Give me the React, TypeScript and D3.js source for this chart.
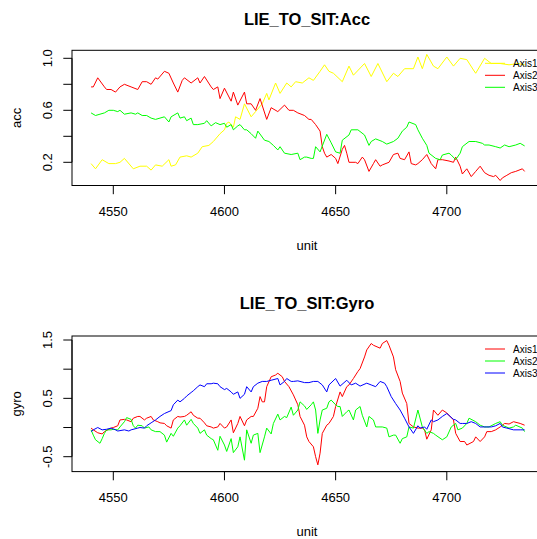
import React from "react";
import * as d3 from "d3";

// ---------- data ----------
const X_TICKS = [4550, 4600, 4650, 4700];
const ACC_TICKS = [0.2, 0.4, 0.6, 0.8, 1.0];
const ACC_TICK_LABELS = ["0.2", "", "0.6", "", "1.0"];
const GYRO_TICKS = [-0.5, 0, 0.5, 1.0, 1.5];
const GYRO_TICK_LABELS = ["-0.5", "", "0.5", "", "1.5"];
const SERIES_NAMES = ["Axis1", "Axis2", "Axis3"];

const accAxis1: [number, number][] = [
  [4540, 0.19], [4542, 0.15], [4545, 0.22], [4548, 0.19], [4551, 0.19], [4553, 0.2], [4555, 0.23],
  [4559, 0.15], [4562, 0.17], [4565, 0.17], [4567, 0.14], [4569, 0.18], [4572, 0.17], [4575, 0.22],
  [4576, 0.17], [4578, 0.18], [4580, 0.24], [4583, 0.25], [4585, 0.24], [4588, 0.27], [4590, 0.32],
  [4593, 0.33], [4595, 0.36], [4598, 0.42], [4600, 0.45], [4601, 0.5], [4602, 0.51], [4604, 0.47],
  [4605, 0.55], [4607, 0.53], [4609, 0.65], [4612, 0.55], [4614, 0.59], [4617, 0.65], [4619, 0.73],
  [4620, 0.68], [4623, 0.81], [4625, 0.73], [4628, 0.81], [4630, 0.78], [4632, 0.82], [4635, 0.81],
  [4638, 0.85], [4640, 0.83], [4643, 0.9], [4645, 0.95], [4647, 0.9], [4649, 0.885], [4653, 0.82],
  [4656, 0.94], [4658, 0.87], [4663, 0.96], [4666, 0.86], [4669, 0.96], [4673, 0.82], [4676, 0.885],
  [4678, 0.86], [4681, 0.92], [4685, 0.92], [4687, 1.01], [4689, 0.92], [4691, 1.03], [4694, 0.94],
  [4696, 0.92], [4700, 1.01], [4703, 0.94], [4706, 1.0], [4709, 0.99], [4712, 0.91], [4713, 0.885],
  [4717, 1.0], [4720, 0.96], [4724, 0.96], [4728, 0.95], [4732, 0.96], [4735, 0.95],
];

const accAxis2: [number, number][] = [
  [4540, 0.78], [4541, 0.78], [4543, 0.85], [4546, 0.78], [4547, 0.76], [4549, 0.76], [4551, 0.74],
  [4553, 0.78], [4555, 0.8], [4558, 0.78], [4561, 0.76], [4563, 0.82], [4565, 0.82], [4567, 0.8],
  [4569, 0.85], [4570, 0.84], [4573, 0.9], [4575, 0.885], [4577, 0.81], [4579, 0.74], [4581, 0.83],
  [4582, 0.85], [4585, 0.81], [4588, 0.85], [4589, 0.81], [4591, 0.86], [4594, 0.78], [4595, 0.76],
  [4597, 0.78], [4598, 0.69], [4600, 0.77], [4603, 0.67], [4604, 0.74], [4606, 0.64], [4609, 0.74],
  [4610, 0.65], [4612, 0.65], [4614, 0.6], [4616, 0.69], [4619, 0.53], [4621, 0.62], [4624, 0.59],
  [4627, 0.64], [4629, 0.6], [4631, 0.6], [4633, 0.58], [4636, 0.56], [4638, 0.53], [4639, 0.53],
  [4641, 0.49], [4643, 0.44], [4644, 0.32], [4645, 0.27], [4646, 0.24], [4648, 0.26], [4650, 0.23],
  [4651, 0.19], [4653, 0.3], [4654, 0.33], [4655, 0.27], [4656, 0.2], [4659, 0.2], [4660, 0.19],
  [4662, 0.24], [4663, 0.22], [4665, 0.13], [4667, 0.19], [4668, 0.22], [4670, 0.17], [4671, 0.18],
  [4674, 0.2], [4676, 0.26], [4678, 0.27], [4679, 0.23], [4681, 0.22], [4683, 0.28], [4684, 0.19],
  [4686, 0.18], [4687, 0.19], [4689, 0.22], [4691, 0.26], [4693, 0.19], [4695, 0.15], [4696, 0.22],
  [4698, 0.22], [4701, 0.21], [4703, 0.2], [4704, 0.24], [4706, 0.17], [4707, 0.11], [4709, 0.15],
  [4711, 0.09], [4713, 0.13], [4715, 0.17], [4717, 0.12], [4719, 0.1], [4721, 0.09], [4722, 0.1],
  [4724, 0.06], [4725, 0.08], [4727, 0.1], [4729, 0.12], [4731, 0.13], [4734, 0.15], [4735, 0.13],
];

const accAxis3: [number, number][] = [
  [4540, 0.58], [4542, 0.56], [4544, 0.57], [4546, 0.58], [4548, 0.6], [4550, 0.6], [4552, 0.59],
  [4553, 0.6], [4555, 0.57], [4558, 0.58], [4560, 0.57], [4561, 0.58], [4563, 0.56], [4565, 0.56],
  [4567, 0.54], [4569, 0.53], [4571, 0.54], [4573, 0.55], [4575, 0.51], [4576, 0.55], [4579, 0.58],
  [4580, 0.54], [4582, 0.55], [4583, 0.52], [4585, 0.54], [4586, 0.49], [4588, 0.49], [4591, 0.5],
  [4592, 0.52], [4594, 0.48], [4596, 0.505], [4598, 0.49], [4600, 0.5], [4601, 0.47], [4603, 0.49],
  [4604, 0.45], [4606, 0.48], [4607, 0.49], [4609, 0.45], [4610, 0.45], [4612, 0.42], [4614, 0.385],
  [4615, 0.44], [4618, 0.37], [4620, 0.36], [4622, 0.33], [4624, 0.295], [4625, 0.32], [4627, 0.27],
  [4630, 0.26], [4633, 0.27], [4634, 0.22], [4636, 0.24], [4637, 0.24], [4639, 0.23], [4640, 0.23],
  [4641, 0.32], [4643, 0.28], [4646, 0.415], [4648, 0.35], [4650, 0.28], [4652, 0.27], [4653, 0.37],
  [4656, 0.41], [4657, 0.45], [4660, 0.45], [4663, 0.41], [4665, 0.33], [4666, 0.36], [4668, 0.38],
  [4671, 0.36], [4673, 0.34], [4676, 0.36], [4678, 0.385], [4680, 0.44], [4682, 0.47], [4683, 0.51],
  [4686, 0.49], [4687, 0.45], [4689, 0.385], [4691, 0.33], [4692, 0.27], [4695, 0.23], [4697, 0.22],
  [4698, 0.256], [4701, 0.27], [4702, 0.256], [4704, 0.22], [4706, 0.27], [4707, 0.32], [4710, 0.36],
  [4713, 0.36], [4716, 0.346], [4717, 0.333], [4719, 0.333], [4722, 0.32], [4724, 0.31], [4726, 0.333],
  [4728, 0.32], [4731, 0.333], [4733, 0.346], [4735, 0.326],
];

const gyroAxis1: [number, number][] = [
  [4540, -0.01], [4541, -0.04], [4543, -0.09], [4545, -0.11], [4546, -0.07], [4549, -0.01], [4550, 0.0],
  [4552, 0.03], [4553, 0.13], [4555, 0.14], [4556, 0.13], [4558, 0.1], [4559, 0.16], [4561, 0.19],
  [4562, 0.19], [4564, 0.13], [4565, 0.16], [4567, 0.19], [4568, 0.13], [4570, 0.1], [4571, 0.08],
  [4573, 0.07], [4574, 0.03], [4576, -0.01], [4577, 0.13], [4579, 0.19], [4580, 0.18], [4582, 0.19],
  [4583, 0.21], [4585, 0.27], [4586, 0.21], [4588, 0.16], [4589, 0.16], [4591, 0.08], [4592, 0.03],
  [4594, 0.01], [4595, -0.01], [4597, 0.01], [4598, 0.07], [4600, -0.01], [4601, 0.01], [4603, 0.13],
  [4604, -0.09], [4606, 0.07], [4607, 0.19], [4609, 0.03], [4610, 0.13], [4612, 0.19], [4613, 0.19],
  [4615, 0.33], [4616, 0.53], [4617, 0.44], [4618, 0.44], [4619, 0.7], [4621, 0.87], [4623, 0.9],
  [4624, 0.93], [4626, 0.87], [4627, 0.79], [4629, 0.7], [4631, 0.56], [4633, 0.39], [4634, 0.19],
  [4636, 0.04], [4637, -0.16], [4638, -0.24], [4640, -0.33], [4641, -0.5], [4642, -0.64], [4643, -0.44],
  [4644, -0.1], [4646, 0.04], [4647, 0.07], [4649, 0.19], [4650, 0.36], [4652, 0.61], [4653, 0.53],
  [4655, 0.7], [4656, 0.73], [4658, 0.84], [4660, 0.96], [4661, 1.01], [4663, 1.21], [4664, 1.33],
  [4666, 1.44], [4667, 1.41], [4670, 1.36], [4671, 1.44], [4673, 1.49], [4674, 1.41], [4676, 1.21],
  [4677, 0.99], [4679, 0.79], [4680, 0.59], [4682, 0.41], [4683, 0.07], [4685, 0.01], [4687, -0.01],
  [4689, -0.01], [4690, -0.04], [4691, -0.2], [4693, -0.04], [4694, 0.3], [4696, 0.21], [4698, 0.3],
  [4700, 0.25], [4703, 0.13], [4704, -0.1], [4706, -0.24], [4708, -0.24], [4709, -0.3], [4712, -0.24],
  [4713, -0.16], [4715, -0.24], [4717, -0.16], [4718, -0.07], [4720, -0.07], [4722, -0.04], [4724, 0.01],
  [4726, 0.07], [4728, 0.06], [4730, 0.1], [4733, 0.07], [4735, 0.04],
];

const gyroAxis2: [number, number][] = [
  [4540, -0.04], [4541, -0.13], [4542, -0.21], [4544, -0.27], [4545, -0.19], [4546, -0.1], [4547, -0.04],
  [4549, -0.04], [4550, -0.03], [4552, -0.04], [4553, 0.01], [4555, 0.1], [4556, 0.17], [4558, 0.14],
  [4559, 0.03], [4560, -0.01], [4561, 0.04], [4563, 0.03], [4564, -0.01], [4566, 0.01], [4567, -0.04],
  [4569, -0.07], [4571, -0.07], [4573, -0.13], [4574, -0.25], [4576, -0.1], [4577, -0.15], [4579, -0.01],
  [4580, 0.03], [4582, 0.13], [4583, 0.04], [4585, 0.14], [4586, 0.07], [4588, -0.01], [4589, -0.1],
  [4591, -0.04], [4592, -0.13], [4594, -0.19], [4595, -0.21], [4597, -0.39], [4598, -0.15], [4600, -0.3],
  [4601, -0.41], [4603, -0.19], [4604, -0.43], [4606, -0.33], [4607, -0.16], [4609, -0.56], [4610, -0.04],
  [4612, -0.27], [4613, -0.13], [4615, -0.1], [4616, -0.43], [4618, -0.16], [4619, -0.01], [4621, -0.11],
  [4622, 0.07], [4624, 0.23], [4625, 0.13], [4627, 0.19], [4628, 0.17], [4630, 0.35], [4631, 0.21],
  [4633, 0.3], [4634, 0.44], [4636, 0.37], [4637, 0.31], [4639, 0.39], [4640, 0.44], [4641, 0.3],
  [4642, -0.1], [4643, 0.13], [4644, 0.3], [4646, 0.33], [4647, 0.44], [4648, 0.47], [4650, 0.39],
  [4651, 0.36], [4652, 0.36], [4653, 0.19], [4655, 0.27], [4656, 0.3], [4658, 0.13], [4659, 0.3],
  [4661, 0.36], [4662, 0.21], [4664, 0.01], [4665, 0.19], [4667, 0.13], [4668, 0.01], [4671, 0.01],
  [4673, -0.01], [4674, -0.16], [4676, -0.13], [4677, -0.13], [4679, -0.27], [4680, -0.19], [4682, -0.16],
  [4683, 0.01], [4685, -0.01], [4687, 0.3], [4689, 0.01], [4691, -0.1], [4692, -0.07], [4694, -0.1],
  [4695, -0.13], [4698, -0.21], [4700, -0.16], [4702, 0.01], [4704, 0.07], [4705, -0.04], [4707, -0.01],
  [4709, 0.07], [4710, 0.16], [4713, 0.1], [4715, 0.04], [4717, 0.01], [4719, 0.01], [4722, 0.07],
  [4724, 0.1], [4725, 0.04], [4728, -0.01], [4730, 0.01], [4731, 0.04], [4734, -0.01], [4735, -0.07],
];

const gyroAxis3: [number, number][] = [
  [4540, -0.07], [4541, -0.04], [4543, 0.0], [4545, -0.04], [4547, -0.03], [4549, -0.01], [4551, -0.04],
  [4552, -0.06], [4555, -0.04], [4557, -0.06], [4558, -0.04], [4561, -0.01], [4562, 0.0], [4564, -0.01],
  [4565, 0.03], [4567, 0.08], [4569, 0.13], [4571, 0.19], [4573, 0.24], [4576, 0.29], [4577, 0.39],
  [4579, 0.47], [4580, 0.44], [4582, 0.5], [4583, 0.54], [4585, 0.6], [4586, 0.63], [4588, 0.7],
  [4589, 0.73], [4591, 0.7], [4592, 0.75], [4594, 0.75], [4595, 0.76], [4597, 0.75], [4598, 0.7],
  [4600, 0.65], [4601, 0.67], [4603, 0.61], [4604, 0.57], [4606, 0.61], [4607, 0.5], [4609, 0.57],
  [4610, 0.7], [4612, 0.61], [4613, 0.7], [4615, 0.76], [4617, 0.79], [4619, 0.79], [4621, 0.81],
  [4624, 0.84], [4625, 0.73], [4627, 0.79], [4628, 0.84], [4630, 0.79], [4631, 0.79], [4633, 0.8],
  [4636, 0.77], [4638, 0.77], [4640, 0.79], [4642, 0.79], [4644, 0.73], [4646, 0.61], [4647, 0.73],
  [4650, 0.84], [4652, 0.71], [4655, 0.81], [4657, 0.73], [4659, 0.76], [4661, 0.71], [4664, 0.76],
  [4666, 0.73], [4668, 0.7], [4670, 0.79], [4672, 0.76], [4673, 0.7], [4675, 0.53], [4677, 0.41],
  [4679, 0.3], [4681, 0.16], [4683, 0.01], [4685, -0.1], [4687, 0.03], [4688, -0.01], [4690, 0.01],
  [4691, -0.03], [4693, 0.13], [4694, 0.1], [4696, 0.13], [4698, 0.19], [4700, 0.24], [4703, 0.14],
  [4704, 0.13], [4706, 0.07], [4707, 0.07], [4709, 0.07], [4711, 0.1], [4713, 0.07], [4715, 0.01],
  [4718, 0.01], [4720, 0.01], [4722, 0.03], [4724, 0.07], [4725, 0.01], [4727, -0.01], [4730, -0.04],
  [4733, -0.04], [4735, -0.04],
];

// ---------- layout ----------
const W = 537;
const H = 539;
const FONT = "'Liberation Sans', Arial, Helvetica, sans-serif";
const BOX_LEFT = 72;
const BOX_RIGHT = 548;

const xScale = d3.scaleLinear().domain([4550, 4700]).range([113.3, 446.8]);

type PanelProps = {
  title: string;
  yLabel: string;
  boxTop: number;
  boxBottom: number;
  yDomain: [number, number];
  yRange: [number, number];
  yTicks: number[];
  yTickLabels: string[];
  series: [number, number][][];
  colors: string[];
  titleY: number;
};

function Panel(p: PanelProps) {
  const y = d3.scaleLinear().domain(p.yDomain).range(p.yRange);
  const line = d3
    .line<[number, number]>()
    .x((d) => xScale(d[0]))
    .y((d) => y(d[1]));
  const midY = (p.boxTop + p.boxBottom) / 2;
  const legendTop = p.boxTop + 13;
  const legendStep = 12;
  return (
    <g>
      <text
        x={307}
        y={p.titleY}
        textAnchor="middle"
        dy="0.35em"
        fontFamily={FONT}
        fontWeight="bold"
        fontSize={16.5}
        fill="#000"
      >
        {p.title}
      </text>
      {p.series.map((s, i) => (
        <path key={i} d={line(s) || ""} fill="none" stroke={p.colors[i]} strokeWidth={1} />
      ))}
      <rect
        x={BOX_LEFT}
        y={p.boxTop}
        width={BOX_RIGHT - BOX_LEFT}
        height={p.boxBottom - p.boxTop}
        fill="none"
        stroke="#000"
        strokeWidth={1}
      />
      {/* x axis */}
      <line
        x1={xScale(X_TICKS[0])}
        x2={xScale(X_TICKS[X_TICKS.length - 1])}
        y1={p.boxBottom}
        y2={p.boxBottom}
        stroke="#000"
      />
      {X_TICKS.map((t) => (
        <g key={t}>
          <line x1={xScale(t)} x2={xScale(t)} y1={p.boxBottom} y2={p.boxBottom + 8.7} stroke="#000" />
          <text
            x={xScale(t)}
            y={p.boxBottom + 26.3}
            dy="0.35em"
            textAnchor="middle"
            fontFamily={FONT}
            fontSize={13}
            fill="#000"
          >
            {t}
          </text>
        </g>
      ))}
      <text
        x={307}
        y={p.boxBottom + 59.5}
        dy="0.35em"
        textAnchor="middle"
        fontFamily={FONT}
        fontSize={13}
        fill="#000"
      >
        unit
      </text>
      {/* y axis */}
      <line
        x1={BOX_LEFT}
        x2={BOX_LEFT}
        y1={y(p.yTicks[0])}
        y2={y(p.yTicks[p.yTicks.length - 1])}
        stroke="#000"
      />
      {p.yTicks.map((t, i) => (
        <g key={t}>
          <line x1={BOX_LEFT - 8.7} x2={BOX_LEFT} y1={y(t)} y2={y(t)} stroke="#000" />
          {p.yTickLabels[i] ? (
            <text
              transform={`translate(47.7,${y(t)}) rotate(-90)`}
              dy="0.35em"
              textAnchor="middle"
              fontFamily={FONT}
              fontSize={13}
              fill="#000"
            >
              {p.yTickLabels[i]}
            </text>
          ) : null}
        </g>
      ))}
      <text
        transform={`translate(16,${midY}) rotate(-90)`}
        dy="0.35em"
        textAnchor="middle"
        fontFamily={FONT}
        fontSize={13}
        fill="#000"
      >
        {p.yLabel}
      </text>
      {/* legend */}
      {SERIES_NAMES.map((name, i) => (
        <g key={name}>
          <line
            x1={485}
            x2={505}
            y1={legendTop + i * legendStep}
            y2={legendTop + i * legendStep}
            stroke={p.colors[i]}
            strokeWidth={1}
          />
          <text
            x={513}
            y={legendTop + i * legendStep}
            dy="0.35em"
            fontFamily={FONT}
            fontSize={10}
            fill="#000"
          >
            {name}
          </text>
        </g>
      ))}
    </g>
  );
}

export default function App() {
  return (
    <svg
      width={W}
      height={H}
      viewBox={`0 0 ${W} ${H}`}
      style={{ position: "fixed", left: 0, top: 0, background: "#fff", display: "block" }}
    >
      <rect x={0} y={0} width={W} height={H} fill="#fff" />
      <Panel
        title="LIE_TO_SIT:Acc"
        yLabel="acc"
        boxTop={50.3}
        boxBottom={185.5}
        yDomain={[0.2, 1.0]}
        yRange={[162.3, 58.3]}
        yTicks={ACC_TICKS}
        yTickLabels={ACC_TICK_LABELS}
        series={[accAxis1, accAxis2, accAxis3]}
        colors={["#FFFF00", "#FF0000", "#00FF00"]}
        titleY={18.8}
      />
      <Panel
        title="LIE_TO_SIT:Gyro"
        yLabel="gyro"
        boxTop={336}
        boxBottom={471.6}
        yDomain={[-0.5, 1.5]}
        yRange={[456.7, 340]}
        yTicks={GYRO_TICKS}
        yTickLabels={GYRO_TICK_LABELS}
        series={[gyroAxis1, gyroAxis2, gyroAxis3]}
        colors={["#FF0000", "#00FF00", "#0000FF"]}
        titleY={303.5}
      />
    </svg>
  );
}
